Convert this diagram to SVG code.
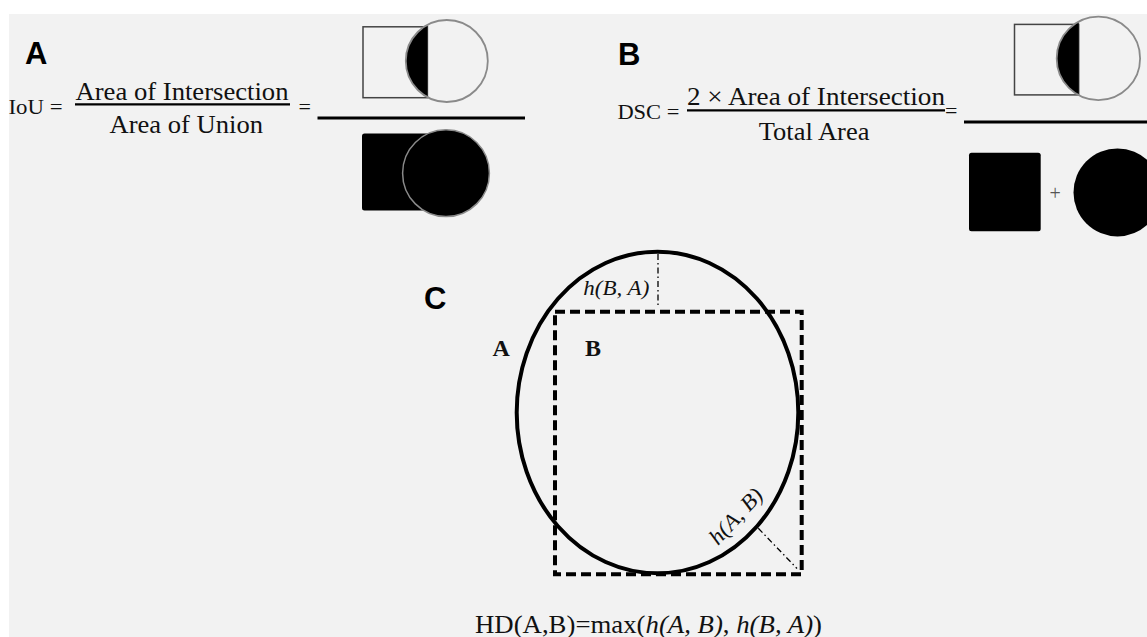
<svg xmlns="http://www.w3.org/2000/svg" width="1147" height="637" viewBox="0 0 1147 637">
  <style>
    .panel { font-family: "Liberation Sans", Arial, sans-serif; font-weight: bold; font-size: 31px; fill: #000; }
    .serif { font-family: "Liberation Serif", "Times New Roman", serif; fill: #111; }
    .it { font-style: italic; }
    .rule { stroke: #000; fill: none; }
    .outline-sq { fill: none; stroke: #444; stroke-width: 1.5; }
    .outline-ci { fill: none; stroke: #8a8a8a; stroke-width: 1.8; }
    .solid { fill: #000; }
    .solid-ci { fill: #000; stroke: #8a8a8a; stroke-width: 1.5; }
    .thick { fill: none; stroke: #000; stroke-width: 4; }
    .dashed { fill: none; stroke: #000; stroke-width: 4; stroke-dasharray: 10 5; }
    .dashdot { fill: none; stroke: #000; stroke-width: 1.3; stroke-dasharray: 6 3 1.5 3; }
  </style>
  <rect x="0" y="0" width="1147" height="637" fill="#ffffff"/>
  <rect x="9" y="14" width="1138" height="623" fill="#f2f2f2"/>

  <!-- Panel A -->
  <g id="panelA">
    <text class="panel" x="25" y="63.5">A</text>
    <text class="serif" x="8.5" y="113.5" font-size="22" textLength="54" lengthAdjust="spacingAndGlyphs">IoU =</text>
    <text class="serif" x="75.5" y="99.5" font-size="25" textLength="213" lengthAdjust="spacingAndGlyphs">Area of Intersection</text>
    <line class="rule" x1="75" y1="104.3" x2="290" y2="104.3" stroke-width="2.2"/>
    <text class="serif" x="109.5" y="133" font-size="25" textLength="153.5" lengthAdjust="spacingAndGlyphs">Area of Union</text>
    <text class="serif" x="298.5" y="113.5" font-size="22">=</text>
    <line class="rule" x1="317.5" y1="118" x2="525" y2="118" stroke-width="3"/>
    <rect class="outline-sq" x="363" y="26.8" width="64.4" height="70.9"/>
    <path class="solid" d="M427.4 24.9 A41 41 0 0 0 427.4 97.1 Z"/>
    <circle class="outline-ci" cx="446.8" cy="61" r="41"/>
    <rect class="solid" x="362" y="133.5" width="70" height="77" rx="2.5"/>
    <circle class="solid-ci" cx="446" cy="173.2" r="43.4"/>
  </g>

  <!-- Panel B -->
  <g id="panelB">
    <text class="panel" x="618" y="64.5">B</text>
    <text class="serif" x="617.4" y="118.6" font-size="22" textLength="62" lengthAdjust="spacingAndGlyphs">DSC =</text>
    <text class="serif" x="687" y="105.4" font-size="26" textLength="258" lengthAdjust="spacingAndGlyphs">2 × Area of Intersection</text>
    <line class="rule" x1="687" y1="110.3" x2="945" y2="110.3" stroke-width="2.2"/>
    <text class="serif" x="945" y="117.5" font-size="22">=</text>
    <text class="serif" x="758.8" y="139.6" font-size="26" textLength="110.6" lengthAdjust="spacingAndGlyphs">Total Area</text>
    <line class="rule" x1="964" y1="122" x2="1147" y2="122" stroke-width="3"/>
    <rect class="outline-sq" x="1014.5" y="24.4" width="64.2" height="70.5"/>
    <path class="solid" d="M1078.7 21.65 A41.7 41.7 0 0 0 1078.7 95.15 Z"/>
    <circle class="outline-ci" cx="1098.4" cy="58.4" r="41.7"/>
    <rect class="solid" x="969" y="152.8" width="71.7" height="78.5" rx="2.5"/>
    <text class="serif" x="1049.5" y="200" font-size="20" fill="#555" style="fill:#555">+</text>
    <circle class="solid" cx="1117.5" cy="192.4" r="44"/>
  </g>

  <!-- Panel C -->
  <g id="panelC">
    <text class="panel" x="424" y="309.3">C</text>
    <g id="shapeA">
      <ellipse class="thick" cx="657.5" cy="412.5" rx="140.8" ry="160.8"/>
      <text class="serif" x="492.5" y="355.5" font-size="24" font-weight="bold" style="fill:#111">A</text>
    </g>
    <g id="shapeB">
      <rect class="dashed" x="555" y="311.7" width="246.7" height="262.6"/>
      <text class="serif" x="585" y="355.5" font-size="24" font-weight="bold" style="fill:#111">B</text>
    </g>
    <g id="connectors">
      <line class="dashdot" x1="658" y1="254" x2="658" y2="307"/>
      <line class="dashdot" x1="758.3" y1="528.3" x2="797" y2="568.5"/>
    </g>
    <text class="serif it" x="583.3" y="295" font-size="22" textLength="66" lengthAdjust="spacingAndGlyphs">h(B, A)</text>
    <text class="serif it" transform="translate(718,546) rotate(-47)" font-size="22" textLength="68" lengthAdjust="spacingAndGlyphs">h(A, B)</text>
    <text class="serif" x="475" y="633" font-size="26" textLength="347" lengthAdjust="spacingAndGlyphs">HD(A,B)=max(<tspan class="it">h(A, B)</tspan>, <tspan class="it">h(B, A)</tspan>)</text>
  </g>
</svg>
